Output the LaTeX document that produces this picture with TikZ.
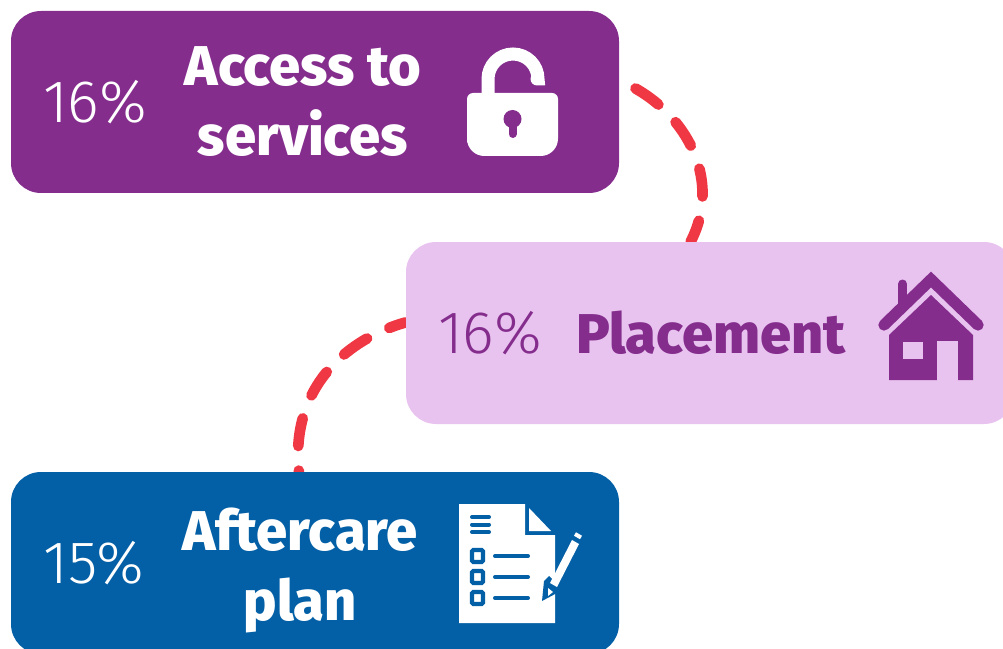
\documentclass[tikz,border=0pt]{standalone}
\usepackage{fontspec}
\usepackage{xcolor}
\usetikzlibrary{backgrounds}
\setmainfont{Fira Sans}
\newfontfamily\lightfont{Fira Sans Light}
\newfontfamily\heavyfont{Fira Sans ExtraBold}
\definecolor{accesscol}{RGB}{132,45,141}
\definecolor{placecol}{RGB}{233,195,240}
\definecolor{planscol}{RGB}{4,96,166}
\definecolor{linkcol}{RGB}{240,56,68}

\begin{document}
\begin{tikzpicture}[x=0.75pt, y=-0.75pt,
    box/.style={rectangle, rounded corners=22.5pt, minimum width=456pt, minimum height=136.5pt},
    pct/.style={font=\lightfont\fontsize{45}{45}\selectfont},
    title/.style={font=\heavyfont\fontsize{42}{52.5}\selectfont, align=center},
    link/.style={draw=linkcol, line width=8pt, line cap=round, dash pattern=on 21pt off 18.5pt}
]
\path[use as bounding box, clip] (0,0) rectangle (1003,649);

\node[box, fill=accesscol] (access) at (315,102) {};
\node[box, fill=placecol] (placement) at (710,333) {};
\node[box, fill=planscol] (aftercare) at (315,563) {};

\node[pct, text=white] (accesspct) at (95,102) {16\%};
\node[pct, text=accesscol] (placementpct) at (490,333) {16\%};
\node[pct, text=white] (aftercarepct) at (94,563) {15\%};

\node[title, text=white] (accesstxt) at (303,102) {Access to\\services};
\node[title, text=accesscol] (placementtxt) at (711,333) {Placement};
\node[title, text=white] (aftercaretxt) at (300,570) {Aftercare\\plan};

\begin{scope}[on background layer]
\draw[link, dash phase=26pt] (access.4) .. controls (680,105) and (725,175) .. (placement.102);
\draw[link, dash phase=8pt] (placement.178.5) .. controls (350,338) and (290,385) .. (aftercare.100);
\end{scope}

% lock
\draw[white, line width=9.75pt, line cap=round] (488,95) -- (488,79) arc[start angle=180, end angle=360, radius=25] -- (537,79);
\fill[white, rounded corners=4.5pt] (467,93) -- (558,93) -- (558,125) [rounded corners=13pt] -- (558,156) -- (467,156) -- (467,125) [rounded corners=4.5pt] -- cycle;
\fill[accesscol] (512.5,119) circle (6.75pt);
\draw[accesscol, line width=6pt, line cap=round] (512.5,122) -- (512.5,134);

% house
\draw[accesscol, line width=6.75pt, line cap=round] (902.5,284) -- (902.5,306);
\draw[accesscol, line width=8.5pt, line cap=round, miter limit=4] (884,325) -- (931,279.5) -- (978,325);
\fill[accesscol] (931,295) -- (973,335) -- (973,380) -- (889,380) -- (889,335) -- cycle;
\fill[placecol] (937,341) rectangle (958,381);
\fill[placecol] (903,342) rectangle (923,359);

% document
\fill[white] (459,504) -- (525,504) -- (525,535) -- (555,535) -- (555,623) -- (459,623) -- cycle;
\fill[white] (529,508) -- (551,531) -- (529,531) -- cycle;
\foreach \y in {517,524.5,532}
    \draw[planscol, line width=3pt, line cap=round] (472,\y) -- (489,\y);
\foreach \y in {556,577,598} {
    \draw[planscol, line width=3.2pt, fill=white, rounded corners=1pt] (472,\y-6) rectangle (483,\y+6);
    \draw[planscol, line width=3pt, line cap=round] (495,\y) -- (528,\y);
}

% pencil
\fill[planscol] (542,601) -- (544,581) -- (549,576) -- (562,589) -- (557,593) -- cycle;
\fill[white] (550,583) -- (572,540) -- (579,544) -- (557,587) -- cycle;
\fill[white] (548,588) -- (553,592) -- (548,596) -- cycle;
\draw[white, line width=3pt] (575,534) -- (581,537.5);
\end{tikzpicture}
\end{document}
